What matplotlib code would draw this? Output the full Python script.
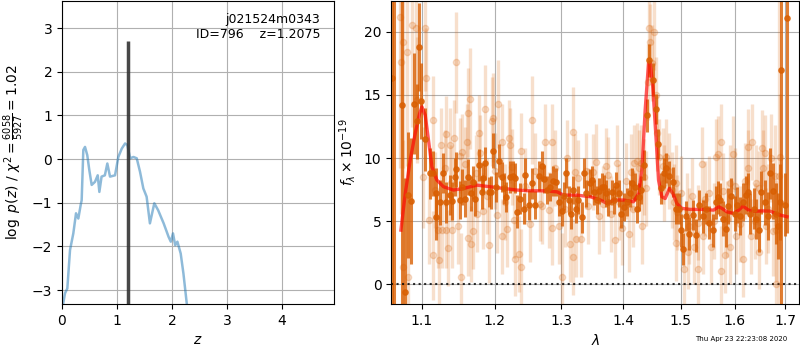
import numpy as np
import matplotlib
matplotlib.use('Agg')
import matplotlib.pyplot as plt
from matplotlib.ticker import FixedLocator, NullLocator, FixedFormatter

# redshift probability p(z)
pz_z = [0.0, 0.024, 0.055, 0.097, 0.146, 0.206, 0.255, 0.297, 0.34, 0.358, 0.388, 0.419, 0.46,
        0.497, 0.54, 0.60, 0.65, 0.68, 0.72, 0.78, 0.825, 0.874, 0.965, 1.025, 1.087, 1.148,
        1.19, 1.24, 1.30, 1.36, 1.42, 1.48, 1.54, 1.60, 1.68, 1.75, 1.85, 1.94, 1.98, 2.02,
        2.06, 2.10, 2.16, 2.21, 2.27, 2.35]
pz_logp = [-3.8, -3.29, -3.07, -2.96, -2.08, -1.70, -1.24, -1.36, -1.05, -0.94, 0.21, 0.28, 0.09,
           -0.25, -0.59, -0.52, -0.37, -0.75, -0.40, -0.37, -0.10, -0.40, -0.37, 0.05, 0.24, 0.36,
           0.32, 0.02, 0.05, 0.02, -0.29, -0.67, -0.86, -1.47, -1.01, -1.17, -1.47, -1.78, -1.89,
           -1.70, -1.97, -1.89, -2.16, -2.62, -3.30, -4.0]
z_best = 1.2075

# binned spectrum (dark points)
dark_wave = [1.0607, 1.0641, 1.0735, 1.0779, 1.0821, 1.0856, 1.0899, 1.0935, 1.0956, 1.0991,
             1.1044, 1.1106, 1.1150, 1.1186, 1.1194, 1.1240, 1.1285, 1.1325, 1.1375, 1.1406,
             1.1443, 1.1465, 1.1512, 1.1544, 1.1581, 1.1627, 1.1669, 1.1701, 1.1725, 1.1785,
             1.1819, 1.1842, 1.1867, 1.1914, 1.1948, 1.1985, 1.2024, 1.2071, 1.2106, 1.2130,
             1.2169, 1.2228, 1.2268, 1.2302, 1.2327, 1.2366, 1.2425, 1.2450, 1.2500, 1.2551,
             1.2590, 1.2650, 1.2702, 1.2738, 1.2779, 1.2830, 1.2872, 1.2923, 1.2965, 1.3005,
             1.3043, 1.3079, 1.3121, 1.3146, 1.3184, 1.3225, 1.3267, 1.3331, 1.3359, 1.3384,
             1.3449, 1.3481, 1.3520, 1.3562, 1.3601, 1.3643, 1.3683, 1.3709, 1.3753, 1.3808,
             1.3847, 1.3886, 1.3930, 1.3957, 1.4015, 1.4070, 1.4109, 1.4155, 1.4201, 1.4235,
             1.4274, 1.4308, 1.4360, 1.4406, 1.4446, 1.4503, 1.4562, 1.4602, 1.4649, 1.4695,
             1.4737, 1.4795, 1.4854, 1.4914, 1.4973, 1.5004, 1.5033, 1.5094, 1.5154, 1.5214,
             1.5276, 1.5337, 1.5398, 1.5461, 1.5522, 1.5584, 1.5648, 1.5685, 1.5728, 1.5779,
             1.5829, 1.5874, 1.5937, 1.6001, 1.6047, 1.6110, 1.6162, 1.6226, 1.6259, 1.6290,
             1.6368, 1.6421, 1.6474, 1.6519, 1.6585, 1.6652, 1.6698, 1.6752, 1.6805, 1.6853,
             1.6885, 1.6919, 1.6987, 1.7042]
dark_flux = [16.3, 24.0, 14.2, -0.6, 7.1, 6.6, 14.3, 12.9, 18.8, 14.5,
             11.5, 8.8, 8.8, 5.35, 7.2, 6.5, 8.8, 6.5, 7.1, 6.6,
             8.5, 9.1, 6.7, 7.7, 6.8, 8.5, 7.2, 8.1, 6.8, 9.45,
             7.3, 8.4, 9.6, 7.3, 7.3, 10.6, 7.7, 9.8, 8.5, 7.6,
             6.9, 8.5, 8.6, 8.4, 5.75, 6.8, 6.0, 8.7, 6.3, 8.0,
             6.3, 8.6, 9.4, 8.35, 7.5, 7.7, 8.2, 8.1, 6.5, 5.8,
             7.0, 8.8, 6.7, 5.6, 7.5, 6.0, 6.7, 5.3, 8.8, 7.2,
             8.0, 8.3, 7.3, 6.7, 7.4, 7.7, 7.7, 7.2, 6.5, 7.3,
             6.7, 7.9, 7.2, 5.6, 6.1, 6.5, 7.2, 8.0, 7.7, 6.0,
             6.9, 7.5, 9.45, 13.4, 17.75, 16.2, 13.9, 11.1, 7.6, 8.8,
             9.2, 8.6, 8.1, 6.0, 6.0, 4.3, 2.8, 5.4, 4.0, 5.5,
             3.9, 6.3, 5.4, 6.0, 4.9, 4.3, 6.5, 6.9, 6.7, 5.2,
             4.4, 6.2, 7.0, 5.6, 6.3, 5.4, 6.5, 7.1, 7.3, 5.6,
             6.0, 5.2, 4.3, 7.3, 6.5, 5.4, 8.8, 7.4, 5.6, 4.6,
             6.5, 17.0, 6.3, 21.06]
dark_err = [30, 30, 20, 9, 5, 5, 4, 3, 3.5, 3,
            2.5, 2.0, 1.8, 1.8, 2.0, 1.8, 1.6, 1.6, 1.6, 1.5,
            1.5, 1.4, 1.5, 1.4, 1.5, 1.4, 1.4, 1.3, 1.4, 1.3,
            1.3, 1.2, 1.3, 1.2, 1.3, 1.4, 1.2, 1.3, 1.2, 1.2,
            1.2, 1.3, 1.2, 1.2, 1.3, 1.2, 1.2, 1.3, 1.2, 1.2,
            1.1, 1.2, 1.2, 1.1, 1.1, 1.1, 1.2, 1.1, 1.1, 1.2,
            1.1, 1.2, 1.1, 1.2, 1.1, 1.1, 1.1, 1.2, 1.2, 1.1,
            1.1, 1.1, 1.0, 1.1, 1.0, 1.1, 1.0, 1.1, 1.1, 1.0,
            1.1, 1.0, 1.1, 1.1, 1.1, 1.1, 1.1, 1.2, 1.1, 1.1,
            1.1, 1.1, 1.2, 1.3, 1.3, 1.3, 1.2, 1.2, 1.2, 1.2,
            1.2, 1.2, 1.2, 1.2, 1.2, 1.3, 1.3, 1.2, 1.3, 1.2,
            1.3, 1.2, 1.3, 1.2, 1.3, 1.3, 1.3, 1.3, 1.3, 1.4,
            1.4, 1.4, 1.4, 1.4, 1.4, 1.5, 1.5, 1.5, 1.5, 1.6,
            1.6, 1.6, 1.7, 1.7, 1.8, 1.9, 2.0, 2.2, 2.4, 2.6,
            3.0, 25, 2.5, 17]

# individual beam spectra (light points)
light_wave = [1.0718, 1.0727, 1.0753, 1.0760, 1.0804, 1.0825, 1.0869, 1.0922, 1.0935, 1.1014,
              1.1035, 1.1054, 1.1093, 1.1141, 1.1150, 1.1175, 1.1217, 1.1231, 1.1253, 1.1262,
              1.1305, 1.1316, 1.1329, 1.1352, 1.1375, 1.1395, 1.1410, 1.1434, 1.1465, 1.1489,
              1.1512, 1.1526, 1.1544, 1.1580, 1.1613, 1.1627, 1.1627, 1.1651, 1.1665, 1.1693,
              1.1740, 1.1749, 1.1785, 1.1795, 1.1842, 1.1867, 1.1890, 1.1928, 1.1962, 1.1985,
              1.2000, 1.2033, 1.2057, 1.2106, 1.2106, 1.2150, 1.2188, 1.2203, 1.2228, 1.2250,
              1.2277, 1.2302, 1.2351, 1.2386, 1.2391, 1.2450, 1.2515, 1.2551, 1.2600, 1.2676,
              1.2700, 1.2753, 1.2804, 1.2856, 1.2856, 1.2900, 1.2965, 1.3016, 1.3060, 1.3094,
              1.3130, 1.3184, 1.3184, 1.3215, 1.3236, 1.3270, 1.3304, 1.3384, 1.3420, 1.3500,
              1.3546, 1.3601, 1.3660, 1.3709, 1.3750, 1.3791, 1.3864, 1.3902, 1.3930, 1.3986,
              1.4050, 1.4099, 1.4126, 1.4160, 1.4184, 1.4235, 1.4270, 1.4303, 1.4313, 1.4360,
              1.4389, 1.4420, 1.4446, 1.4463, 1.4490, 1.4520, 1.4562, 1.4580, 1.4619, 1.4680,
              1.4707, 1.4737, 1.4783, 1.4836, 1.4880, 1.4914, 1.4914, 1.4932, 1.5000, 1.5063,
              1.5120, 1.5123, 1.5154, 1.5200, 1.5245, 1.5306, 1.5320, 1.5379, 1.5398, 1.5450,
              1.5522, 1.5554, 1.5600, 1.5648, 1.5685, 1.5747, 1.5747, 1.5780, 1.5810, 1.5860,
              1.5905, 1.5905, 1.5970, 1.6000, 1.6033, 1.6100, 1.6162, 1.6200, 1.6259, 1.6259,
              1.6324, 1.6343, 1.6400, 1.6408, 1.6474, 1.6480, 1.6539, 1.6553, 1.6585, 1.6618,
              1.6650, 1.6718, 1.6750, 1.6785, 1.6805, 1.6819, 1.6865, 1.6885]
light_flux = [21.2, 17.6, 19.2, 1.4, 18.4, 0.6, 20.5, 20.3, 14.6, 8.5,
              20.3, 16.3, 5.1, 2.3, 13.0, 7.5, 4.3, 1.9, 11.0, 4.3,
              9.2, 11.9, 4.3, 2.9, 11.0, 8.0, 4.3, 11.6, 17.6, 4.6,
              10.2, 0.6, 10.5, 9.5, 11.3, 13.6, 3.7, 14.7, 3.2, 4.2,
              8.8, 5.6, 12.0, 10.4, 5.8, 13.9, 7.0, 3.1, 12.9, 13.2,
              9.0, 5.5, 14.3, 11.3, 3.8, 6.5, 4.4, 11.6, 11.0, 9.3,
              5.1, 2.05, 2.4, 10.6, 1.39, 7.8, 4.8, 13.0, 9.0, 6.4,
              6.2, 11.3, 5.9, 11.3, 4.5, 9.2, 4.6, 0.6, 6.0, 10.0,
              3.2, 12.1, 2.2, 8.9, 3.6, 8.4, 3.6, 9.0, 6.2, 8.9,
              9.7, 5.4, 6.4, 9.4, 8.7, 5.6, 3.5, 9.6, 6.5, 4.5,
              8.2, 4.0, 8.9, 6.0, 9.6, 9.8, 9.2, 9.6, 4.6, 8.5,
              7.6, 16.0, 20.3, 19.2, 17.5, 20.0, 15.0, 12.0, 10.1, 9.4,
              8.0, 10.1, 9.0, 7.5, 6.5, 8.0, 3.3, 5.7, 7.2, 1.26,
              5.8, 2.6, 4.6, 7.0, 3.0, 1.2, 4.9, 9.5, 3.8, 6.8,
              7.2, 3.0, 5.0, 10.1, 10.3, 11.3, 1.1, 7.4, 2.3, 5.2,
              8.0, 3.0, 10.3, 7.8, 3.8, 4.8, 2.0, 8.2, 10.9, 9.2,
              3.8, 11.3, 5.0, 8.0, 2.6, 7.6, 10.8, 9.2, 10.4, 4.6,
              6.0, 10.0, 4.2, 8.6, 4.3, 0.0, 8.6, 10.1]
light_err = [12, 12, 10, 10, 9, 9, 8, 6, 5, 4,
             5, 4, 3.5, 3.5, 3.5, 3, 3, 3.5, 3, 3,
             3, 3, 3, 3, 3, 3, 3, 3, 4, 3,
             3, 3.5, 3, 3, 3, 3.5, 3, 4, 3, 3,
             3, 3, 3, 3, 3, 3.5, 3, 3, 3.5, 3.5,
             3, 3, 3.5, 3, 3, 3, 3, 3, 3, 3,
             3, 3, 3, 3, 3, 3, 3, 3.5, 3, 3,
             3, 3, 3, 3, 3, 3, 3, 3.5, 3, 3,
             3, 3.5, 3, 3, 3, 3, 3, 3, 3, 3,
             3, 3, 3, 3, 3, 3, 3, 3, 3, 3,
             3, 3, 3, 3, 3, 3, 3, 3, 3, 3,
             3, 3, 3, 3, 3, 3, 3, 3, 3, 3,
             3, 3, 3, 3, 3, 3, 3, 3, 3, 3,
             3, 3, 3, 3, 3, 3, 3, 3, 3, 3,
             3, 3, 3, 3, 3, 3, 3.5, 3, 3, 3,
             3, 3, 3, 3, 3, 3, 3, 3, 3, 3,
             3, 3, 3, 3, 3, 3, 3, 3, 3, 3,
             3.5, 3.5, 3.5, 4, 4, 8, 14, 5]

# best-fit model
model_wave = [1.0727, 1.0783, 1.0847, 1.0912, 1.0969, 1.1000, 1.1044, 1.1088, 1.1133, 1.1199,
              1.1289, 1.1425, 1.1563, 1.1750, 1.1939, 1.2131, 1.2327, 1.2526, 1.2728, 1.2933,
              1.3036, 1.3247, 1.3460, 1.3622, 1.3731, 1.3842, 1.4008, 1.4172, 1.4264, 1.4321,
              1.4373, 1.4431, 1.4460, 1.4506, 1.4564, 1.4605, 1.4663, 1.4722, 1.4798, 1.4858,
              1.4929, 1.5019, 1.5170, 1.5415, 1.5601, 1.5695, 1.5758, 1.5852, 1.5980, 1.6076,
              1.6160, 1.6270, 1.6368, 1.6565, 1.6698, 1.6798, 1.6900, 1.7035]
model_flux = [4.3, 7.2, 9.84, 11.95, 13.5, 14.06, 13.4, 11.4, 9.3, 8.26,
              7.73, 7.47, 7.6, 7.86, 7.73, 7.6, 7.47, 7.41, 7.41, 7.33,
              7.07, 7.07, 6.94, 6.68, 6.41, 6.68, 6.68, 6.54, 7.2, 9.3,
              13.8, 17.5, 17.6, 15.6, 11.4, 8.26, 6.94, 6.8, 7.6, 7.2,
              6.41, 6.02, 5.94, 5.94, 5.88, 6.15, 6.02, 5.75, 5.62, 5.88,
              6.2, 5.88, 5.8, 5.82, 5.8, 5.62, 5.49, 5.36]

wave_ticks = [1.1, 1.2, 1.3, 1.4, 1.5, 1.6, 1.7]

dark_col = '#d95f02'

fig = plt.figure(figsize=(8, 3.5), dpi=100)
ax1 = fig.add_axes([0.0775, 0.131, 0.34, 0.866])
ax2 = fig.add_axes([0.489, 0.131, 0.510, 0.866])

# p(z) panel
ax1.plot(pz_z, pz_logp, color='C0', alpha=0.5, lw=1.8)
ax1.vlines(z_best, -3.32, 2.7, color='0.2', alpha=0.9, lw=2.5)
ax1.set_xlim(0, 4.95)
ax1.set_ylim(-3.32, 3.62)
ax1.grid()
ax1.set_xlabel(r'$z$')
ax1.set_ylabel(r'$\log\ p(z)$ / $\chi^2=\frac{6058}{5927}=1.02$')
ax1.text(0.95, 0.96, 'j021524m0343\nID=796    z=1.2075', transform=ax1.transAxes,
         ha='right', va='top', fontsize=9)

# spectrum panel
ax2.errorbar(light_wave, light_flux, yerr=light_err, marker='o', ms=4.5, ls='None',
             color=dark_col, alpha=0.2, elinewidth=2.4)
ax2.errorbar(dark_wave, dark_flux, yerr=dark_err, marker='o', ms=3.8, ls='None',
             color=dark_col, alpha=0.8, elinewidth=2.2)
ax2.plot(model_wave, model_flux, color='r', alpha=0.65, lw=2.4)
ax2.axhline(0, color='k', ls=':', lw=1.5, alpha=0.8)

ax2.set_xscale('log')
ax2.set_xlim(1.0603, 1.7286)
ax2.set_ylim(-1.56, 22.43)
ax2.xaxis.set_major_locator(FixedLocator(wave_ticks))
ax2.xaxis.set_major_formatter(FixedFormatter(['%.1f' % w for w in wave_ticks]))
ax2.xaxis.set_minor_locator(NullLocator())
ax2.grid()
ax2.set_xlabel(r'$\lambda$')
ax2.set_ylabel(r'$f_\lambda\times 10^{-19}$')

fig.text(0.984, 0.03, 'Thu Apr 23 22:23:08 2020', ha='right', va='center', fontsize=5)

fig.savefig('out.png', dpi=100)
